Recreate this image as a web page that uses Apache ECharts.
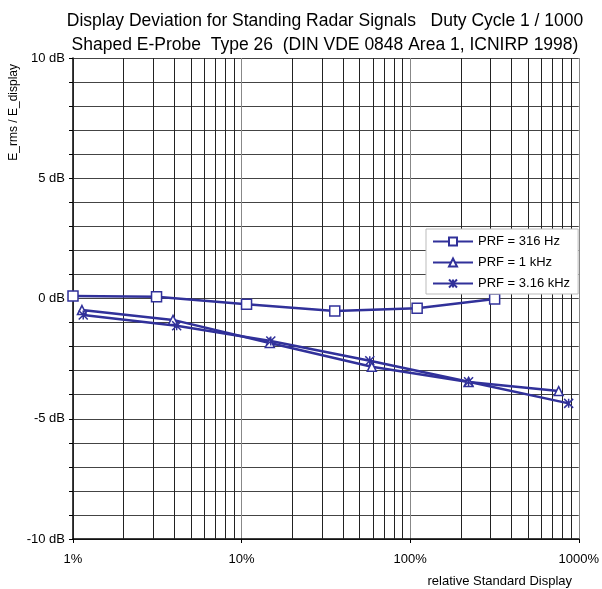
<!DOCTYPE html>
<html>
<head>
<meta charset="utf-8">
<script src="https://cdn.jsdelivr.net/npm/echarts@6/dist/echarts.min.js"></script>
<style>
  html, body { margin: 0; padding: 0; background: #fff; }
  #chart { width: 602px; height: 589px; }
</style>
</head>
<body>
<div id="chart"></div>
<script>
// values (x in %, y in dB)
var prf316 = [[1, 0.1], [3.13, 0.07], [10.7, -0.24], [35.7, -0.52], [110, -0.41], [317, -0.02]];
var prf1k = [[1.13, -0.48], [3.92, -0.89], [14.7, -1.85], [59.2, -2.84], [222, -3.47], [760, -3.85]];
var prf3k = [[1.15, -0.69], [4.12, -1.13], [14.9, -1.77], [57.6, -2.59], [222, -3.46], [871, -4.36]];
var seriesNames = ['PRF = 316 Hz', 'PRF = 1 kHz', 'PRF = 3.16 kHz'];
var xMinorLines = [2, 3, 4, 5, 6, 7, 8, 9, 20, 30, 40, 50, 60, 70, 80, 90, 200, 300, 400, 500, 600, 700, 800, 900];

var font = 'Liberation Sans, Arial, sans-serif';
var blue = '#31319a';

var chart = echarts.init(document.getElementById('chart'));

var option = {
    animation: false,
    title: [{
        text: 'Display Deviation for Standing Radar Signals   Duty Cycle 1 / 1000\nShaped E-Probe  Type 26  (DIN VDE 0848 Area 1, ICNIRP 1998)',
        left: 320, top: 4, textAlign: 'center',
        textStyle: { fontFamily: font, fontSize: 17.5, fontWeight: 'normal', color: '#000', lineHeight: 24 }
    }, {
        text: 'relative Standard Display',
        left: 567, top: 570, textAlign: 'right',
        textStyle: { fontFamily: font, fontSize: 13, fontWeight: 'normal', color: '#000' }
    }],
    graphic: [{
        type: 'text', left: 8, top: 64, rotation: Math.PI / 2,
        style: { text: 'E_rms / E_display', font: '12px ' + font, fill: '#000' }
    }],
    legend: {
        orient: 'vertical', left: 426, top: 229, z: 10,
        itemWidth: 40, itemHeight: 10, itemGap: 8,
        backgroundColor: '#fff', borderColor: '#bbb', borderWidth: 1,
        padding: [6, 8, 4, 6],
        textStyle: { fontFamily: font, fontSize: 13, color: '#000' },
        data: seriesNames
    },
    grid: { left: 73, right: 23, top: 58, bottom: 50, containLabel: false },
    xAxis: {
        type: 'log', logBase: 10, min: 1, max: 1000,
        axisLine: { show: true, onZero: false, lineStyle: { color: '#000', width: 1.5 } },
        axisTick: { show: true, length: 4, inside: false, lineStyle: { color: '#000' } },
        axisLabel: {
            margin: 14, fontFamily: font, fontSize: 13, color: '#000',
            formatter: function (v) { return v + '%'; }
        },
        splitLine: { show: true, lineStyle: { color: '#888', width: 1 } }
    },
    yAxis: {
        type: 'value', min: -10, max: 10, interval: 1,
        axisLine: { show: true, onZero: false, lineStyle: { color: '#000', width: 1.5 } },
        axisTick: { show: true, length: 4, lineStyle: { color: '#000' } },
        axisLabel: {
            margin: 8, fontFamily: font, fontSize: 13, color: '#000',
            formatter: function (v) { return v % 5 === 0 ? v + ' dB' : ''; }
        },
        splitLine: { show: true, lineStyle: { color: '#444', width: 1 } }
    },
    series: [{
        name: seriesNames[0], type: 'line', data: prf316,
        symbol: 'rect', symbolSize: 10, showAllSymbol: true,
        lineStyle: { color: blue, width: 2.5 },
        itemStyle: { color: '#fff', borderColor: blue, borderWidth: 1.5 },
        markLine: {
            silent: true, symbol: 'none', label: { show: false },
            lineStyle: { color: '#222', width: 1, type: 'solid' },
            data: xMinorLines.map(function (v) { return { xAxis: v }; }),
            z: 1
        },
        z: 3
    }, {
        name: seriesNames[1], type: 'line', data: prf1k,
        symbol: 'triangle', symbolSize: 9, showAllSymbol: true,
        lineStyle: { color: blue, width: 2.5 },
        itemStyle: { color: '#fff', borderColor: blue, borderWidth: 1.5 },
        z: 3
    }, {
        name: seriesNames[2], type: 'line', data: prf3k,
        symbol: 'path://M0,0L10,10M10,0L0,10M5,0L5,10', symbolSize: 9, showAllSymbol: true,
        lineStyle: { color: blue, width: 2.5 },
        itemStyle: { color: blue, borderColor: blue, borderWidth: 1.5 },
        z: 3
    }]
};

chart.setOption(option);
</script>
</body>
</html>
